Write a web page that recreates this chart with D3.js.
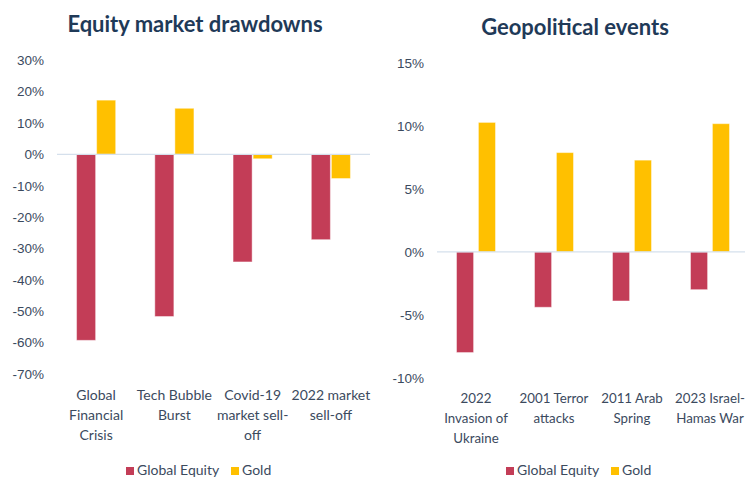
<!DOCTYPE html>
<html>
<head>
<meta charset="utf-8">
<script src="https://cdn.jsdelivr.net/npm/d3@7"></script>
<style>
body { margin:0; background:#fff; }
</style>
</head>
<body>
<script>
// data
var series = ["Global Equity", "Gold"];
var colors = ["#c33d57", "#ffc000"];

var drawCats = ["Global|Financial|Crisis", "Tech Bubble|Burst", "Covid-19|market sell-|off", "2022 market|sell-off"];
var drawEquity = [-59.3, -51.7, -34.3, -27.2];
var drawGold = [17.3, 14.7, -1.4, -7.7];
var drawTicks = [30, 20, 10, 0, -10, -20, -30, -40, -50, -60, -70];

var geoCats = ["2022|Invasion of|Ukraine", "2001 Terror|attacks", "2011 Arab|Spring", "2023 Israel-|Hamas War"];
var geoEquity = [-8.0, -4.4, -3.9, -3.0];
var geoGold = [10.3, 7.9, 7.3, 10.2];
var geoTicks = [15, 10, 5, 0, -5, -10];

var width = 745, height = 479;
var svg = d3.select("body").append("svg")
    .attr("width", width)
    .attr("height", height);

function panel(opt) {
    var g = svg.append("g");
    var x = d3.scaleBand().domain(opt.cats).range(opt.xr);
    var x1 = d3.scaleBand().domain(series)
        .range([x.bandwidth() * 0.25, x.bandwidth() * 0.75])
        .paddingInner(opt.gap);
    var y = d3.scaleLinear().domain(opt.yd).range(opt.yr);

    // title
    g.append("text")
        .attr("x", opt.titleX).attr("y", opt.titleY)
        .attr("text-anchor", "middle")
        .style("font-family", "Lato")
        .style("font-weight", "bold")
        .style("font-size", "22px")
        .style("fill", "#1f3a58")
        .text(opt.title);

    // y axis labels
    var ax = g.append("g")
        .attr("transform", "translate(" + opt.tickX + ",0)")
        .call(d3.axisLeft(y).tickValues(opt.ticks).tickSize(0).tickPadding(0)
            .tickFormat(function(d){ return d + "%"; }));
    ax.select(".domain").remove();
    ax.selectAll("text")
        .style("font-family", "Liberation Sans")
        .style("font-size", "13.5px")
        .style("fill", "#3b4a5e");

    // bars
    var rows = opt.cats.map(function(c, i){ return {cat: c, vals: [opt.eq[i], opt.gold[i]]}; });
    var grp = g.selectAll(".grp").data(rows).enter().append("g")
        .attr("transform", function(d){ return "translate(" + x(d.cat) + ",0)"; });
    grp.selectAll("rect").data(function(d){ return d.vals.map(function(v, k){ return {s: series[k], v: v, k: k}; }); })
        .enter().append("rect")
        .attr("x", function(d){ return x1(d.s); })
        .attr("width", x1.bandwidth())
        .attr("y", function(d){ return y(Math.max(0, d.v)); })
        .attr("height", function(d){ return Math.abs(y(d.v) - y(0)); })
        .style("fill", function(d){ return colors[d.k]; })
        .style("stroke", "#fff")
        .style("stroke-opacity", 0.45)
        .style("stroke-width", 1);

    // zero line
    g.append("line")
        .attr("x1", opt.xr[0]).attr("x2", opt.lineEnd)
        .attr("y1", y(0)).attr("y2", y(0))
        .style("stroke", "#d5e0ec")
        .style("stroke-width", 1.3);

    // category labels
    grp.each(function(d){
        var t = d3.select(this).append("text")
            .attr("text-anchor", "middle")
            .style("font-family", "Lato")
            .style("font-size", opt.labelSize)
            .style("fill", "#3b4a5e");
        d.cat.split("|").forEach(function(line, i){
            t.append("tspan").attr("x", x.bandwidth() / 2)
                .attr("y", opt.labelY + i * 20).text(line);
        });
    });

    // legend
    var lg = g.append("g").attr("transform", "translate(" + opt.legX + "," + opt.legY + ")");
    var offs = [0, 105];
    series.forEach(function(s, k){
        lg.append("rect").attr("x", offs[k]).attr("y", -8).attr("width", 8).attr("height", 8)
            .style("fill", colors[k]);
        lg.append("text").attr("x", offs[k] + 11).attr("y", 0)
            .style("font-family", "Lato")
            .style("font-size", "14px")
            .style("fill", "#3b4a5e")
            .text(s);
    });
}

panel({
    title: "Equity market drawdowns", titleX: 195, titleY: 32,
    cats: drawCats, eq: drawEquity, gold: drawGold, ticks: drawTicks,
    xr: [57, 370], lineEnd: 370, yd: [-70, 30], yr: [373.9, 60.3], gap: 0.05,
    tickX: 44, labelY: 400, labelSize: "14px", legX: 126, legY: 475
});

panel({
    title: "Geopolitical events", titleX: 575, titleY: 35,
    cats: geoCats, eq: geoEquity, gold: geoGold, ticks: geoTicks,
    xr: [437, 749], lineEnd: 745, yd: [-10, 15], yr: [377.7, 63.3], gap: 0.22,
    tickX: 424, labelY: 403, labelSize: "13.3px", legX: 506, legY: 475
});
</script>
</body>
</html>
